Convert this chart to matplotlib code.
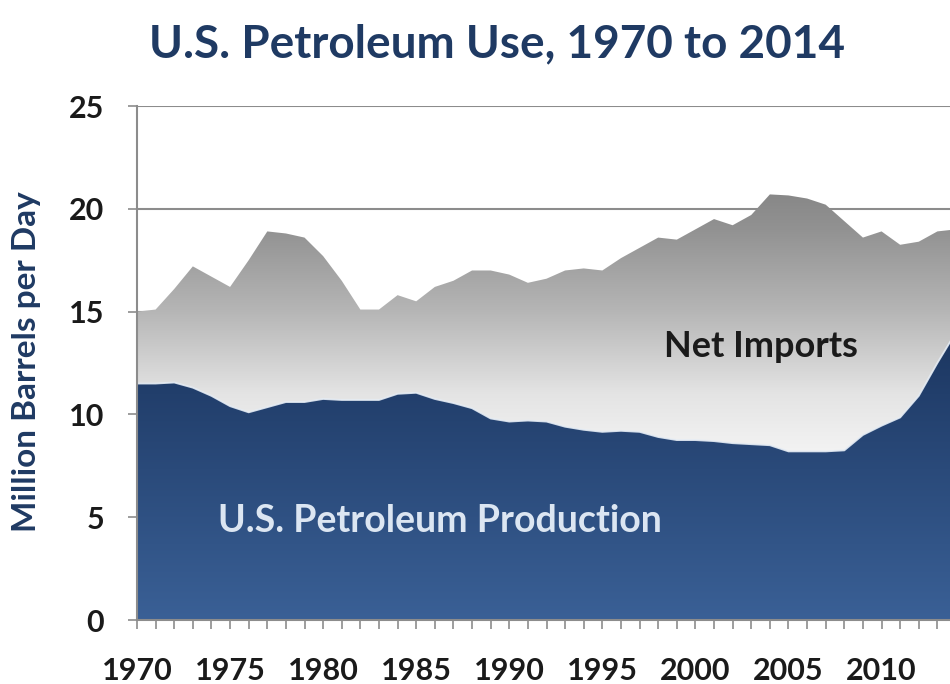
import matplotlib.pyplot as plt
import numpy as np
from matplotlib.colors import LinearSegmentedColormap

# values, million barrels per day
years = np.arange(1970, 2015)
production = [
    11.5, 11.5, 11.55, 11.3, 10.9, 10.4, 10.1, 10.35, 10.6, 10.6,
    10.75, 10.7, 10.7, 10.7, 11.0, 11.05, 10.75, 10.55, 10.3, 9.8,
    9.65, 9.7, 9.65, 9.4, 9.25, 9.15, 9.2, 9.15, 8.9, 8.75,
    8.75, 8.7, 8.6, 8.55, 8.5, 8.2, 8.2, 8.2, 8.25, 9.0,
    9.45, 9.85, 10.9, 12.5, 14.0,
]
net_imports = [
    3.5, 3.6, 4.55, 5.9, 5.8, 5.8, 7.4, 8.55, 8.2, 8.0,
    6.95, 5.8, 4.4, 4.4, 4.8, 4.45, 5.45, 5.95, 6.7, 7.2,
    7.15, 6.7, 6.95, 7.6, 7.85, 7.85, 8.4, 8.95, 9.7, 9.75,
    10.25, 10.8, 10.6, 11.15, 12.2, 12.45, 12.3, 12.0, 11.15, 9.6,
    9.45, 8.4, 7.5, 6.4, 5.0,
]
y_ticks = [0, 5, 10, 15, 20, 25]
x_label_years = list(range(1970, 2015, 5))

NAVY = "#1f3a63"
AXIS_GRAY = "#8c8c8c"

plt.rcParams["font.family"] = ["Lato", "DejaVu Sans"]

fig = plt.figure(figsize=(9.5, 6.84), dpi=100)
fig.patch.set_facecolor("white")
# the right edge of the plot is cut off in the reference, so the axes run past the figure
ax = fig.add_axes([137 / 950, 64 / 684, 819 / 950, 514 / 684])

polys = ax.stackplot(years, production, net_imports, colors=["none", "none"], linewidth=0)

gray_cmap = LinearSegmentedColormap.from_list(
    "imports",
    [(0.0, "#ffffff"), (8 / 21, "#f4f4f4"), (11 / 21, "#e4e4e4"), (15 / 21, "#b6b6b6"),
     (19 / 21, "#929292"), (1.0, "#868686")],
)
navy_cmap = LinearSegmentedColormap.from_list(
    "production", [(0.0, "#3a6096"), (11 / 14, "#223f6c"), (1.0, "#1b355f")]
)

grad = np.linspace(0, 1, 256).reshape(-1, 1)
for poly, cmap, top, z in [(polys[1], gray_cmap, 21, 1.0), (polys[0], navy_cmap, 14, 1.1)]:
    im = ax.imshow(grad, extent=[1970, 2014, 0, top], origin="lower", cmap=cmap,
                   aspect="auto", interpolation="bilinear", zorder=z)
    im.set_clip_path(poly.get_paths()[0], transform=ax.transData)

# light rim along the top of the production area
ax.plot(years, production, color="#e6edf5", lw=1.3, alpha=0.9, zorder=1.2)

ax.set_xlim(1970, 2014)
ax.set_ylim(0, 25)
ax.set_yticks(y_ticks)
ax.set_xticks(x_label_years)
ax.set_xticks(years, minor=True)

ax.yaxis.grid(True, color=AXIS_GRAY, lw=1.5, zorder=0.5)
ax.set_axisbelow(True)
for side in ["top", "right"]:
    ax.spines[side].set_visible(False)
for side in ["left", "bottom"]:
    ax.spines[side].set_color(AXIS_GRAY)
    ax.spines[side].set_linewidth(1.5)

ax.tick_params(axis="x", which="both", direction="out", length=6.5, width=1.2, color=AXIS_GRAY)
ax.tick_params(axis="x", which="major", pad=20, labelsize=22, labelcolor="#1a1a1a")
ax.tick_params(axis="y", direction="out", length=6.5, width=1.2, color=AXIS_GRAY,
               pad=17, labelsize=22, labelcolor="#1a1a1a")
for lbl in ax.get_xticklabels() + ax.get_yticklabels():
    lbl.set_fontweight("bold")

ax.text(2003.5, 13.3, "Net Imports", ha="center", va="center",
        fontsize=26, fontweight="bold", color="#1a1a1a", zorder=3)
ax.text(1986.3, 4.8, "U.S. Petroleum Production", ha="center", va="center",
        fontsize=27, fontweight="bold", color="#dce6f2", zorder=3)

fig.text(497 / 950, 1 - 44 / 684, "U.S. Petroleum Use, 1970 to 2014", ha="center", va="center",
         fontsize=33, fontweight="bold", color=NAVY)
fig.text(27 / 950, 1 - 362 / 684, "Million Barrels per Day", ha="center", va="center",
         rotation=90, fontsize=24, fontweight="bold", color=NAVY)

fig.savefig("out.png", dpi=100, facecolor="white")
